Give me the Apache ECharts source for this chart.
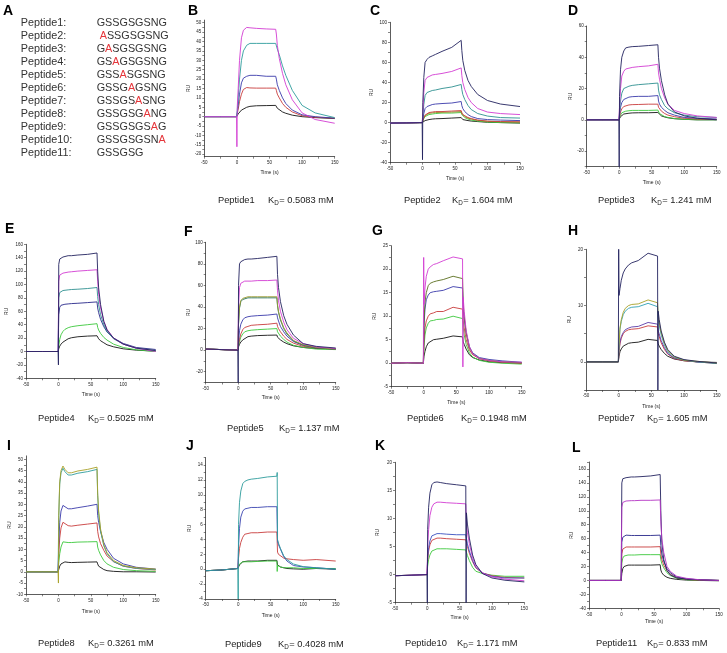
<!DOCTYPE html>
<html><head><meta charset="utf-8">
<script src="https://cdn.jsdelivr.net/npm/echarts@6/dist/echarts.min.js"></script>
<style>html,body{margin:0;padding:0;background:#fff}#c{width:727px;height:653px}</style>
</head><body><div id="c"></div>
<script>
// ---------- DATA ----------
const peptideNames = ['Peptide1','Peptide2','Peptide3','Peptide4','Peptide5','Peptide6','Peptide7','Peptide8','Peptide9','Peptide10','Peptide11'];
const sequences = ['GSSGSGSNG',' ASSGSGSNG','GASGSGSNG','GSAGSGSNG','GSSASGSNG','GSSGAGSNG','GSSGSASNG','GSSGSGANG','GSSGSGSAG','GSSGSGSNA','GSSGSG'];
const mutIndex = [-1,1,1,2,3,4,5,6,7,8,-1];
const kdValues = ['0.5083','1.604','1.241','0.5025','1.137','0.1948','1.605','0.3261','0.4028','1.171','0.833'];
const panelLetters = ['B','C','D','E','F','G','H','I','J','K','L'];

// time points (s) shared by every sensorgram
const T = [-50,-25,-0.5,0,0.5,2,4,7,10,15,20,30,45,59.5,60,60.5,62,65,70,75,85,100,120,150];
const xTickLabels = [-50,0,50,100,150];
const xTickMarks = [-50,-25,0,25,50,75,100,125,150];

// Panel B - Peptide1 (black, red, blue, teal, magenta)
const valsB = [
 [0,0,0,0, 0.5,1.5,2.5,3.5,4.2,5,5.5,5.8,5.9,6, 6, 5,4.5,3.5,2.5,1.8,0.8,0,-0.5,-1],
 [0,0,0,0, 1.5,4,8,12,14.5,15.5,15.3,15.2,15.2,15.2, 15.2, 14,12,10,7,5,2.5,0.5,-0.3,-0.8],
 [0,0,0,0, 2,6,12,18,20.5,21.5,22,22,21.5,21.5, 22.5, 20,17,14,10,7,3.5,1,0,-0.8],
 [0,0,0,0, 3,10,20,30,35,38,39,39,39,39, 39, 38,36,33,27,22,14,6,2,-0.5],
 [0,0,0,-16, 5,15,30,42,46,47.5,47.3,47,46.7,46.5, 46.5, 44,38,31,23,17,9,2,-1.5,-3.5]
];
const colsB = ['#141414','#c83c3c','#3a3aaa','#2e9c9c','#d23cd2'];
const yTicksB = [-20,-15,-10,-5,0,5,10,15,20,25,30,35,40,45,50];

// Panel C - Peptide2
const valsC = [
 [-0.5,-0.3,0,0, 0.5,1.5,2,2.5,3,3.5,3.8,4,4.5,5, 5, 3.5,3,2.5,2,1.5,1,0.3,0,-0.5],
 [-0.5,-0.3,0,0, 1.5,4,6,7,8,8.5,9,9.5,9.5,10, 10, 8,6.5,5,3.5,2.5,1.5,0.5,0,-0.3],
 [-0.5,-0.3,0,0, 1.8,4.5,7,8.3,9.2,9.7,10,10.2,10.5,11, 11, 9,7.3,6,4.5,3.5,2.2,1.2,0.8,0.5],
 [-0.5,-0.3,0,0, 2,5,7.5,9,10,10.5,11,11,11.5,12, 12, 10,8,6.5,5,4,2.5,1.5,1,0.8],
 [-0.5,-0.3,0,0, 3,9,14,16,17,18,18.5,19,19.5,21, 21, 17,14,11,8,6,4,3,2.5,2],
 [-0.5,-0.3,0,0, 6,18,27,30,31,32,32.5,34,35.5,38, 38, 33,28,23,17,13,9,6.5,5,4.5],
 [-0.5,-0.3,0,0, 10,30,42,45,46.5,47.5,48,49,51,54.5, 54.5, 47,40,33,25,20,14,10.5,9,8],
 [-0.5,-0.3,0,-37, 20,45,60,63,65,66.5,68,71,75,82, 82, 72,62,52,42,36,28,22,18.5,16]
];
const colsC = ['#141414','#3cc83c','#9a8a28','#c83c3c','#3a3aaa','#2e9090','#d23cd2','#23235f'];
const yTicksC = [-40,-20,0,20,40,60,80,100];

// Panel D - Peptide3
const valsD = [
 [0,0,0,0, 1,2,3,3.7,4,4.2,4.4,4.5,4.5,4.7, 4.7, 4,3.5,2.5,1.8,1.3,0.7,0.3,0,0],
 [0,0,0,0, 1.5,3,4.5,5.2,5.5,5.8,6,6,6,6.2, 6.2, 5,4,3,2,1.5,0.8,0.3,0,0],
 [0,0,0,0, 2,5,7,8.5,9,9.5,9.7,9.8,10,10, 10, 8,7,5.5,4,3,2,1,0.5,0.3],
 [0,0,0,0, 3,8,11,13,14,14.5,14.8,15,15,15.5, 15.5, 12,10,8,6,4.5,3,1.5,1,0.5],
 [0,0,0,0, 5,12,17,20,21,21.5,22,22.5,23,23.5, 23.5, 19,16,13,9,7,4.5,3,2,1.5],
 [0,0,0,0, 8,20,28,31,32.5,33,33.5,34,34.5,35.5, 35.5, 30,26,20,14,10,6,4,2.5,1.5],
 [0,0,0,-30, 15,32,40,44,46,46.5,46.8,47,47.5,48, 48, 40,33,25,16,10,5,2.5,1,0]
];
const colsD = ['#141414','#3cc83c','#c83c3c','#3a3aaa','#2e9090','#d23cd2','#23235f'];
const yTicksD = [-20,0,20,40,60];

// Panel E - Peptide4
const valsE = [
 [0,0,0,0, 4,8,11,14,16,19,20.5,22,23,23.5, 23.5, 21,19,16,13,10,7,4,2,0.5],
 [0,0,0,0, 8,18,25,30,33,35.5,37,38.5,40,41.5, 41.5, 36,32,27,21,17,11,6,2.5,0],
 [0,0,0,0, 55,66,69,70,70.5,71,71.5,72,73,74, 74, 65,58,48,37,29,20,12,6,3],
 [0,0,0,0, 80,88,90,91,91.5,92,92.5,93,94,95.5, 95.5, 82,70,55,40,30,19,11,5,1],
 [0,0,0,0, 105,114,116,117,118,118.5,119,120,121,122, 122, 105,85,65,45,33,20,11,5,0],
 [0,0,0,-20, 130,138,140,141,142,143,143,144,145,147, 147, 120,95,70,45,32,20,11,5,1.5]
];
const colsE = ['#141414','#3cc83c','#28288a','#2e9090','#d23cd2','#23235f'];
const yTicksE = [-40,-20,0,20,40,60,80,100,120,140,160];

// Panel F - Peptide5
const valsF = [
 [1,0.5,0,0, 3,5.5,7.5,9.5,11,12.5,13,13.5,13.8,14, 14, 12,11,9.5,7.5,6,4,2.5,1.5,1],
 [1,0.5,0,0, 4,8,12,15,17,18,18.5,19,19.5,20, 20, 17,15.5,13,10,7.5,4.5,2.5,1,0.5],
 [1,0.5,0,0, 5,10,15,19,21,22,23,23.5,24,25, 25, 22,20,17,13,10,6.5,3.5,2,1],
 [1,0.5,0,0, 8,18,24,28,30,31,31.5,32,32.5,33.5, 33.5, 30,27,22,17,13,8,4.5,2.5,1],
 [1,0.5,0,0, 24,39,45,47,48,48.5,48.5,48.5,48.5,48.5, 48.5, 41,35,28,20,15,8.5,4.5,2,1],
 [1,0.5,0,0, 25,40,46,48,49,49.5,49.5,49.5,49.5,49.5, 49.5, 42,36,29,21,16,9,5,2.5,1],
 [1,0.5,0,0, 40,58,62,63.5,64,64,64,64.5,64.5,65, 65, 55,46,36,26,19,11,6,3,1.5],
 [1,0.5,0,-30, 60,80,82,83,84,84.5,84.5,85,86,87, 87, 70,58,45,32,24,14,6,3.5,2]
];
const colsF = ['#141414','#3cc83c','#c83c3c','#3a3aaa','#1f6e5a','#9a9a30','#d23cd2','#23235f'];
const yTicksF = [-20,0,20,40,60,80,100];

// Panel G - Peptide6
const valsG = [
 [0,0.1,0,0, 1.5,2.5,3.5,4.3,4.7,5,5.1,5.3,5.8,5.6, 5.6, 4.5,4,3,1.8,1.2,0.7,0.3,0.1,0],
 [0,0.1,0,0, 3.5,6,7.5,8.5,9,9.1,9.3,9.4,10,9.5, 9.5, 7.5,6,4,2.2,1.3,0.6,0.2,0,-0.2],
 [0,0.1,0,0, 5,7.5,9,10,10.5,10.7,11,11,11.9,11.5, 11.5, 9,7.5,5,2.8,1.8,1,0.5,0.2,0],
 [0,0.1,0,0, 8,11.5,13.5,14.5,15,15.2,15.3,15.5,16.3,16, 16, 11.5,9.5,6.5,3.5,2.2,1.2,0.8,0.5,0.2],
 [0,0.1,0,0, 9,13,15,16.5,17,17.3,17.5,17.8,18.5,18, 18, 12.5,10,6.5,3.3,2,1,0.6,0.3,0.1],
 [0,0.1,0,22.5, 12.5,16,18.5,20,20.5,21,21.2,21.8,22.6,22.2, -0.8, 14,11,7,3.5,2,1,0.6,0.3,0.2]
];
const colsG = ['#141414','#3cc83c','#c83c3c','#3a3aaa','#5a6e1e','#d23cd2'];
const yTicksG = [-5,0,5,10,15,20,25];

// Panel H - Peptide7
const valsH = [
 [0,0,0,0, 1,1.8,2.3,2.8,3.1,3.3,3.4,3.5,4,3.8, 3.8, 3.2,2.8,2.2,1.5,1,0.5,0.2,0,-0.1],
 [0,0,0,0, 1.8,3.2,4.2,5,5.4,5.7,5.8,5.9,6.4,6.2, 6.2, 5,4.5,3.4,2.2,1.4,0.6,0.2,0,-0.3],
 [0,0,0,0, 2,3.5,4.5,5.2,5.7,6,6.2,6.3,7,6.7, 6.7, 5.5,5,3.8,2.5,1.5,0.7,0.3,0,-0.2],
 [0,0,0,0, 3,5.8,7.2,8.4,9,9.5,9.7,9.8,10.4,9.8, 9.8, 7.5,6.5,4.8,3,1.8,0.8,0.3,0,-0.3],
 [0,0,0,0, 3,6,7.5,8.8,9.5,10,10.2,10.3,11,10.5, 10.5, 8,7,5.2,3.3,2,0.9,0.3,0.1,-0.2],
 [0,0,0,20, 11.8,13,14.5,15.8,16.5,17.2,17.6,18,19.3,18.8, -5, 9,7.5,5.5,3.5,2.2,1,0.4,0.1,-0.2]
];
const colsH = ['#141414','#c83c3c','#5a3ca8','#30a0b4','#a8a028','#23235f'];
const yTicksH = [0,10,20];

// Panel I - Peptide8
const valsI = [
 [0,0,0,0, 1,2.5,3.5,4.3,4.4,4.2,4.1,4.2,4.3,4.4, 4.4, 3.5,2.5,1.8,1,0.5,0.2,0,0,-0.1],
 [0,0,0,0, 4,8,11,13.3,13.5,13,13,13.2,13.3,13.4, 13.4, 11,9.5,7.5,5,3.5,2,1,0.5,0.2],
 [0,0,0,0, 8,15,19.5,22,21.5,20.5,20.3,20.7,21.2,21.7, 21.7, 18,15.5,12.5,9.5,7,4.5,2.5,1.5,0.8],
 [0,0,0,0, 12,22,27,29.5,29,28,28,28.5,29.2,30, 30, 25,22,18,13,10,6,3.5,2,1.2],
 [0,0,0,0, 24,39,44,46,44.5,43,43,43.8,44.5,45.5, 45.5, 34,26,18,11.5,8,4.5,2.5,1.5,1],
 [0,0,0,-5, 25,40,45,47,45.5,44,44,44.8,45.5,46.5, 46.5, 35,27,19,12,8.5,5,2.8,1.8,1.2]
];
const colsI = ['#141414','#3cc83c','#c83c3c','#3a3aaa','#2e9c9c','#a8a028'];
const yTicksI = [-10,-5,0,5,10,15,20,25,30,35,40,45,50];

// Panel J - Peptide9
const valsJ = [
 [-0.2,-0.1,0.1,0, 0.3,0.6,0.8,1,1.1,1.1,1.1,1.1,1.2,1.2, 1.2, 0.6,0.5,0.3,0.2,0.1,0.05,0,0.1,0],
 [-0.2,-0.1,0.1,0, 0.4,0.7,0.9,1,1,1,1,1.05,1.1,1.1, -0.3, 0.5,0.4,0.3,0.2,0.2,0.2,0.1,0.1,0.1],
 [-0.2,-0.1,0.1,0, 1.5,2.8,3.6,4.3,4.7,4.8,4.9,4.9,5,5, 5, 2.3,2,1.8,1.5,1.4,1.3,1.2,1.3,1.1],
 [-0.2,-0.1,0.1,0, 3,5.5,7,7.8,8.1,8.2,8.3,8.3,8.4,8.4, 8.4, 3.8,3.3,2.7,1.7,1.1,0.5,0.3,0.2,0],
 [-0.2,-0.1,0.1,-4, 6,9,10.5,11.5,11.8,12,12.1,12.2,12.4,12.5, 13, 4,3.5,2.8,1.8,1.3,0.7,0.35,0.2,0]
];
const colsJ = ['#141414','#3cc83c','#c83c3c','#3a44b0','#2e9c9c'];
const yTicksJ = [-4,-2,0,2,4,6,8,10,12,14];

// Panel K - Peptide10
const valsK = [
 [-0.2,-0.1,0,0, 1.5,2.7,3.5,4.2,4.5,4.6,4.6,4.6,4.5,4.4, 4.4, 4,3.4,2.5,1.3,0.6,0.2,-0.1,-0.3,-0.3],
 [-0.2,-0.1,0,0, 2.5,4.2,5.3,6.1,6.4,6.5,6.5,6.4,6.3,6.2, 6.2, 5.8,5,3.8,2.3,1.2,0.3,-0.2,-0.5,-0.6],
 [-0.2,-0.1,0,0, 3,4.8,6,6.9,7.2,7.3,7.3,7.2,7.1,7.1, 7.1, 6.5,5.5,4.2,2.5,1.3,0.3,-0.3,-0.6,-0.6],
 [-0.2,-0.1,0,0, 5,8,10.5,12,12.6,12.9,12.9,12.8,12.7,12.6, 12.6, 9,7.5,5.5,3,1.5,0.3,-0.4,-0.8,-1.1],
 [-0.2,-0.1,0,-5, 8,12,14.5,16,16.4,16.5,16.4,16.2,16,15.8, -5, 11,9,6.5,3.5,1.8,0.2,-0.6,-1,-1.3]
];
const colsK = ['#3cc83c','#c83c3c','#3a50c0','#d23cd2','#23235f'];
const yTicksK = [-5,0,5,10,15,20];

// Panel L - Peptide11
const valsL = [
 [0,0,0,0, 10,17,20,21.5,22,22,22,22,22,22.5, 22.5, 15,11,7.5,4.5,3,1.5,0.5,0,-0.5],
 [0,0,0,0, 25,32,35,36,36.5,36.5,36.5,37,37,37, 37, 30,24,18,11,7,3,1,0.3,0],
 [0,0,0,0, 38,45,47,48,48,48,48,48,48,48.5, 48.5, 38,30,22,14,9,4,1.5,0.5,0],
 [0,0,0,0, 55,62,64,65,65,64.5,64.5,64.5,64.5,65, 65, 50,38,27,17,11,5,2,1,0],
 [0,0,0,0, 140,146,147,147.5,148,148.5,148.5,149,150,152, 152, 100,55,30,14,8,3.5,2,1,0],
 [0,0,0,0, 105,112,113.5,114,114.5,114.5,114.5,115,115,115.5, 115.5, 85,60,40,20,13,6,3,1,0]
];
const colsL = ['#141414','#3cc83c','#c83c3c','#28288a','#23235f','#b434c4'];
const yTicksL = [-40,-20,0,20,40,60,80,100,120,140,160];

// ---------- LAYOUT ----------
const FONT = '"Liberation Sans", Arial, sans-serif';
const panels = [
 {vals:valsB, cols:colsB, ticks:yTicksB, yMin:-21.3, yMax:51.4, g:[204.3,20.1,130.4,136.6], xg:13.5, yg:12.5, cap:[218,268,200], let:[188,4]},
 {vals:valsC, cols:colsC, ticks:yTicksC, yMin:-40, yMax:100, g:[390,22.3,130,140.4], xg:13.5, yg:15.5, cap:[404,452,200], let:[370,4]},
 {vals:valsD, cols:colsD, ticks:yTicksD, yMin:-30, yMax:60, g:[586.7,26,130,140.7], xg:13.5, yg:9.5, cap:[598,651,200], let:[568,4]},
 {vals:valsE, cols:colsE, ticks:yTicksE, yMin:-40, yMax:160, g:[26,244.3,129.7,134], xg:14, yg:16.5, cap:[38,88,418], let:[5,222]},
 {vals:valsF, cols:colsF, ticks:yTicksF, yMin:-30, yMax:100, g:[205.7,242.3,130,140.2], xg:13, yg:14, cap:[227,279,428], let:[184,225]},
 {vals:valsG, cols:colsG, ticks:yTicksG, yMin:-5, yMax:25, g:[391,245.7,130.7,141], xg:13.5, yg:13.5, cap:[407,461,418], let:[372,224]},
 {vals:valsH, cols:colsH, ticks:yTicksH, yMin:-5, yMax:20, g:[586,249.3,130.7,140.7], xg:14.5, yg:13.5, cap:[598,647,418], let:[568,224]},
 {vals:valsI, cols:colsI, ticks:yTicksI, yMin:-10, yMax:51.5, g:[26,455.9,129.7,138.4], xg:15, yg:11.5, cap:[38,88,643], let:[7,439]},
 {vals:valsJ, cols:colsJ, ticks:yTicksJ, yMin:-4, yMax:15, g:[205.7,457.6,130,141.4], xg:14, yg:14, cap:[225,278,644], let:[186,439]},
 {vals:valsK, cols:colsK, ticks:yTicksK, yMin:-5, yMax:20, g:[395,462.3,129.3,140.4], xg:12.5, yg:14.5, cap:[405,457,643], let:[375,439]},
 {vals:valsL, cols:colsL, ticks:yTicksL, yMin:-40, yMax:170, g:[589,462,130,146.3], xg:11, yg:12, cap:[596,647,643], let:[572,441]}
];

const AX = '#333';
const grids = [], xAxes = [], yAxes = [], series = [], graphics = [];

function tickMarks(labels, lo, hi) {
  const half = (labels[1] - labels[0]) / 2;
  const out = [];
  for (let v = labels[0] - half * Math.floor((labels[0] - lo) / half + 1e-9); v <= hi + 1e-9; v += half) out.push(+v.toFixed(4));
  return out;
}

panels.forEach((p, i) => {
  grids.push({left: p.g[0], top: p.g[1], width: p.g[2], height: p.g[3], containLabel: false});
  xAxes.push({
    type: 'value', gridIndex: i, min: -50, max: 150,
    axisLine: {show: true, onZero: false, lineStyle: {color: AX, width: 0.8}},
    axisTick: {show: true, customValues: xTickMarks, length: 2, lineStyle: {color: AX, width: 0.6}},
    axisLabel: {customValues: xTickLabels, fontSize: 4.5, margin: 3.5, color: '#222', fontFamily: FONT},
    splitLine: {show: false},
    name: 'Time (s)', nameLocation: 'middle', nameGap: p.xg,
    nameTextStyle: {fontSize: 5, color: '#222', fontFamily: FONT}
  });
  yAxes.push({
    type: 'value', gridIndex: i, min: p.yMin, max: p.yMax,
    axisLine: {show: true, onZero: false, lineStyle: {color: AX, width: 0.8}},
    axisTick: {show: true, customValues: tickMarks(p.ticks, p.yMin, p.yMax), length: 2, lineStyle: {color: AX, width: 0.6}},
    axisLabel: {customValues: p.ticks, fontSize: 4.5, margin: 3, color: '#222', fontFamily: FONT},
    splitLine: {show: false},
    name: 'RU', nameLocation: 'middle', nameGap: p.yg,
    nameTextStyle: {fontSize: 5, color: '#222', fontFamily: FONT}
  });
  p.vals.forEach((v, j) => {
    series.push({
      type: 'line', xAxisIndex: i, yAxisIndex: i, silent: true,
      data: T.map((t, k) => [t, v[k]]),
      showSymbol: false, symbol: 'none', clip: true,
      lineStyle: {width: 0.9, color: p.cols[j]}, itemStyle: {color: p.cols[j]}
    });
  });
  // panel letter
  graphics.push({type: 'text', x: p.let[0], y: p.let[1], style: {text: panelLetters[i], fontSize: 14, fontWeight: 'bold', fontFamily: FONT, fill: '#000', verticalAlign: 'top'}});
  // caption
  const [px, kx, cy] = p.cap;
  graphics.push({type: 'text', x: px, y: cy, style: {text: peptideNames[i], fontSize: 9.3, fontFamily: FONT, fill: '#222', verticalAlign: 'middle'}});
  graphics.push({type: 'text', x: kx, y: cy, style: {text: 'K', fontSize: 9.3, fontFamily: FONT, fill: '#222', verticalAlign: 'middle'}});
  graphics.push({type: 'text', x: kx + 6.3, y: cy + 2.8, style: {text: 'D', fontSize: 6.3, fontFamily: FONT, fill: '#222', verticalAlign: 'middle'}});
  graphics.push({type: 'text', x: kx + 11.2, y: cy, style: {text: '= ' + kdValues[i] + ' mM', fontSize: 9.3, fontFamily: FONT, fill: '#222', verticalAlign: 'middle'}});
});

// Panel A
graphics.push({type: 'text', x: 3, y: 4, style: {text: 'A', fontSize: 14, fontWeight: 'bold', fontFamily: FONT, fill: '#000', verticalAlign: 'top'}});
peptideNames.forEach((n, i) => {
  const y = 23.3 + 13 * i;
  graphics.push({type: 'text', x: 20.7, y: y, style: {text: n + ':', fontSize: 10.8, fontFamily: FONT, fill: '#333', verticalAlign: 'middle'}});
  const s = sequences[i], k = mutIndex[i];
  const txt = k < 0 ? s : s.slice(0, k) + '{r|' + s[k] + '}' + s.slice(k + 1);
  graphics.push({type: 'text', x: 96.7, y: y, style: {
    text: txt, fontSize: 10.8, fontFamily: FONT, fill: '#333', verticalAlign: 'middle',
    rich: {r: {fill: '#e5353a', fontSize: 10.8, fontFamily: FONT}}
  }});
});

const chart = echarts.init(document.getElementById('c'), null, {renderer: 'canvas'});
chart.setOption({
  backgroundColor: '#fff', animation: false,
  grid: grids, xAxis: xAxes, yAxis: yAxes, series: series, graphic: graphics
});
</script></body></html>
